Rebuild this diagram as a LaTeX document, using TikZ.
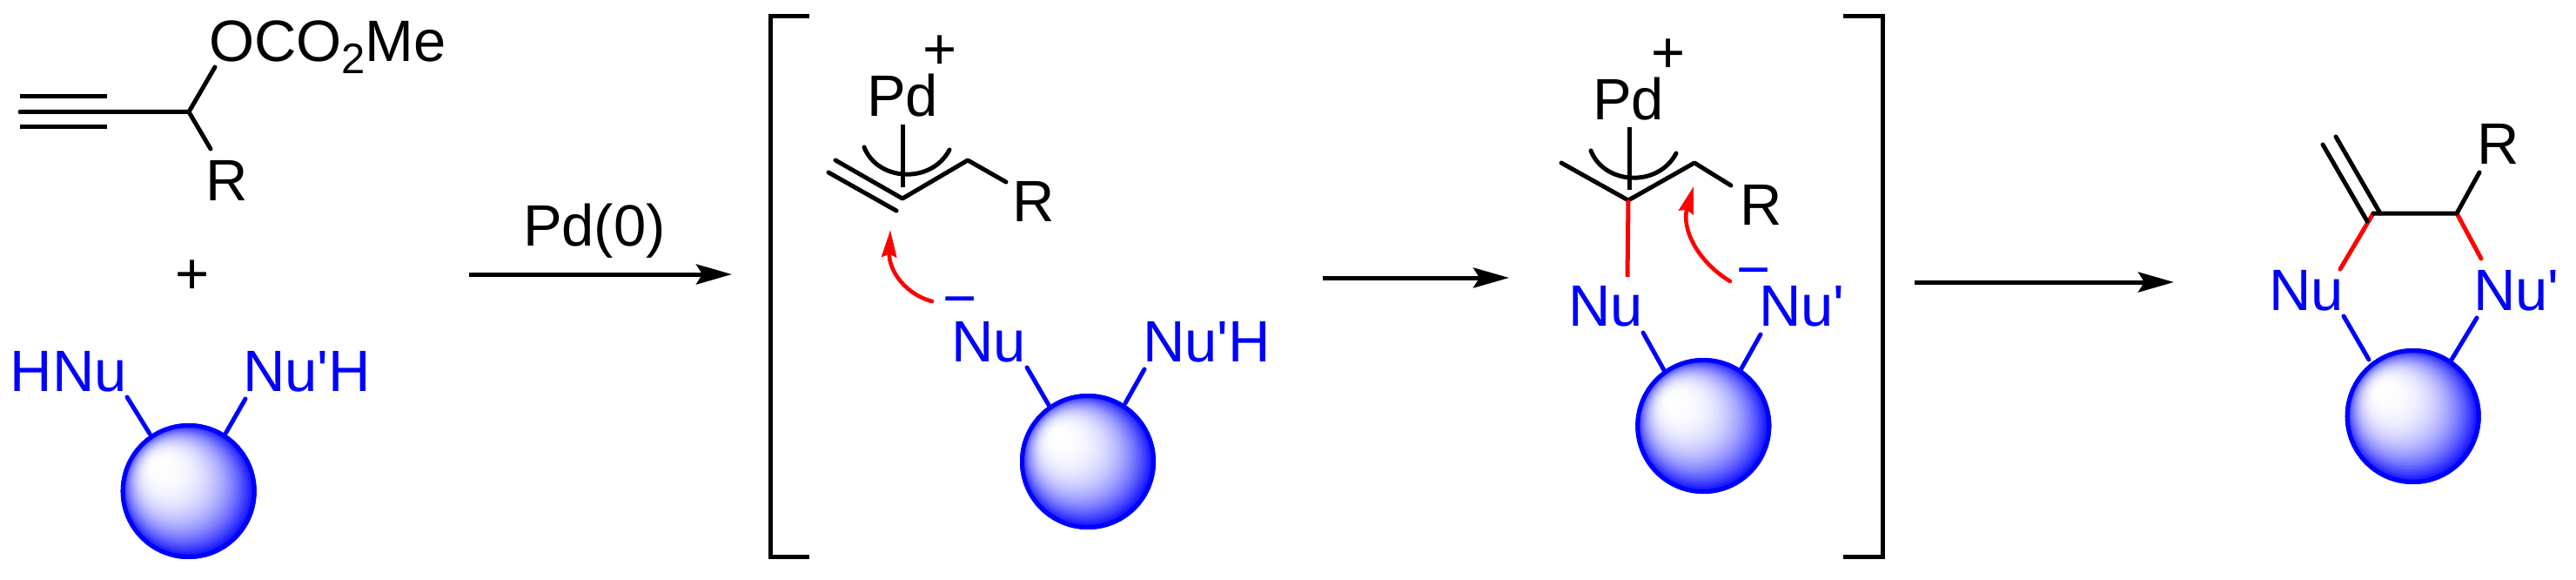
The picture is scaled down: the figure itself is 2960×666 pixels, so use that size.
\documentclass[tikz,border=0pt]{standalone}
\usepackage{fontspec}
\newfontfamily\labfont{Liberation Sans}
\usetikzlibrary{arrows.meta}
\definecolor{nublue}{RGB}{0,0,255}
\definecolor{arrowred}{RGB}{255,0,0}
\tikzset{
  lab/.style={anchor=base west,inner sep=0pt,outer sep=0pt,font=\labfont\fontsize{67}{80}\selectfont},
  bluelab/.style={lab,text=nublue},
  bond/.style={draw=black,line width=5pt,line cap=round,line join=round},
  bluebond/.style={bond,draw=nublue},
  redbond/.style={bond,draw=arrowred},
  rxn/.style={draw=black,line width=5pt,-{Stealth[length=41pt,width=23pt,inset=7pt]}},
  push/.style={draw=arrowred,line width=4.6pt,line cap=round,-{Stealth[length=31pt,width=17pt,inset=3pt]}},
  brack/.style={draw=black,line width=5pt,line cap=butt,line join=miter},
  beadrim/.style={draw=nublue,line width=5pt}
}
% banded sphere: circles shrink from the outline towards the highlight
\newcommand{\beadat}[3]{%
  \coordinate (#1) at (#2,#3);
  \foreach \i in {40,39,...,1}{%
    \pgfmathsetmacro\tt{\i/40}%
    \pgfmathsetmacro\pct{100*(\tt^2.7)}%
    \pgfmathsetmacro\rr{78*\tt}%
    \fill[nublue!\pct!white] ({#2-36.7*(1-\tt)},{#3-31*(1-\tt)}) circle[radius=\rr pt];
  }%
  \draw[beadrim] (#1) circle[radius=75.5pt];}
\begin{document}
\begin{tikzpicture}[x=1pt,y=-1pt]
\useasboundingbox (0,0) rectangle (2960,666);
\fill[white] (0,0) rectangle (2960,666);
% --- propargyl carbonate
\coordinate (a1) at (23,111); \coordinate (a2) at (123,111);
\coordinate (b1) at (23,128.5); \coordinate (b2) at (217,128.5);
\coordinate (c1) at (23,146); \coordinate (c2) at (123,146);
\coordinate (oend) at (247,77); \coordinate (rend) at (242,171);
\draw[bond,line cap=butt] (a1) -- (a2);
\draw[bond,line cap=butt] (c1) -- (c2);
\draw[bond] (b1) -- (b2) -- (oend);
\draw[bond] (b2) -- (rend);
\node[lab] (ococ) at (240,71) {OCO\raisebox{-14pt}{\fontsize{49}{49}\selectfont 2}Me};
\node[lab] (r1) at (236,230) {R};
\node[lab] (plus1) at (201.5,337) {+};
% --- bifunctional bead 1
\beadat{s1}{216.7}{564}
\coordinate (s1a) at (146,456); \coordinate (s1b) at (172,498);
\coordinate (s1c) at (282,458); \coordinate (s1d) at (259,498);
\draw[bluebond] (s1a) -- (s1b);
\draw[bluebond] (s1c) -- (s1d);
\node[bluelab] (hnu) at (12,449) {HNu};
\node[bluelab] (nuh1) at (279,449) {Nu'H};
% --- arrow 1
\coordinate (ar1a) at (539,315); \coordinate (ar1b) at (841,315);
\draw[rxn] (ar1a) -- (ar1b);
\node[lab] (pd0) at (601,282) {Pd(0)};
% --- brackets
\coordinate (bl1) at (930,19); \coordinate (bl2) at (885,19);
\coordinate (bl3) at (885,639); \coordinate (bl4) at (930,639);
\draw[brack] (bl1) -- (bl2) -- (bl3) -- (bl4);
\coordinate (br1) at (2118,19); \coordinate (br2) at (2163,19);
\coordinate (br3) at (2163,639); \coordinate (br4) at (2118,639);
\draw[brack] (br1) -- (br2) -- (br3) -- (br4);
% --- intermediate 1
\node[lab] (pd1) at (996,134) {Pd};
\node[lab] (plus2) at (1060,80) {+};
\coordinate (p1a) at (1037.3,143); \coordinate (p1b) at (1037.3,215);
\draw[bond,line cap=butt] (p1a) -- (p1b);
\coordinate (e1a) at (993,169); \coordinate (e1b) at (1091,172);
\draw[bond] (e1a) .. controls (1008,208) and (1070,212) .. (e1b);
\coordinate (d1a) at (960,184); \coordinate (d1b) at (1037,228);
\coordinate (d1c) at (952,198); \coordinate (d1d) at (1030,242);
\coordinate (d1e) at (1112,184); \coordinate (d1f) at (1156,209);
\draw[bond] (d1a) -- (d1b) -- (d1e) -- (d1f);
\draw[bond] (d1c) -- (d1d);
\node[lab] (r2) at (1163,254) {R};
\coordinate (m1a) at (1071,346); \coordinate (m1b) at (1023,264);
\draw[push] (m1a) .. controls (1040,338) and (1021,310) .. (m1b);
\node[bluelab] (minus1) at (1083,365) {−};
\node[bluelab] (nu2) at (1093,415) {Nu};
\node[bluelab] (nuh2) at (1313,415) {Nu'H};
\beadat{s2}{1250}{530}
\coordinate (s2a) at (1180,422); \coordinate (s2b) at (1205,465);
\coordinate (s2c) at (1315,424); \coordinate (s2d) at (1293,463);
\draw[bluebond] (s2a) -- (s2b);
\draw[bluebond] (s2c) -- (s2d);
% --- arrow 2
\coordinate (ar2a) at (1520,319); \coordinate (ar2b) at (1734,319);
\draw[rxn] (ar2a) -- (ar2b);
% --- intermediate 2
\node[lab] (pd2) at (1830,138) {Pd};
\node[lab] (plus3) at (1897,84) {+};
\coordinate (p2a) at (1872,146); \coordinate (p2b) at (1872,218);
\draw[bond,line cap=butt] (p2a) -- (p2b);
\coordinate (e2a) at (1828,173); \coordinate (e2b) at (1926,176);
\draw[bond] (e2a) .. controls (1843,212) and (1905,216) .. (e2b);
\coordinate (f2a) at (1794,187); \coordinate (f2b) at (1871,230);
\coordinate (f2c) at (1947,187); \coordinate (f2d) at (1989,213);
\draw[bond] (f2a) -- (f2b) -- (f2c) -- (f2d);
\coordinate (f2e) at (1870,318);
\draw[redbond,line cap=butt] (f2b) -- (f2e);
\node[lab] (r3) at (1999,258) {R};
\coordinate (m2a) at (1988,323); \coordinate (m2b) at (1946,214);
\draw[push] (m2a) .. controls (1950,300) and (1932,262) .. (m2b);
\node[bluelab] (minus2) at (1995,332) {−};
\node[bluelab] (nu3) at (1802,374) {Nu};
\node[bluelab] (nuh3) at (2021,374) {Nu'};
\beadat{s3}{1957.3}{489}
\coordinate (s3a) at (1888,382); \coordinate (s3b) at (1912,425);
\coordinate (s3c) at (2023,384); \coordinate (s3d) at (2000,425);
\draw[bluebond] (s3a) -- (s3b);
\draw[bluebond] (s3c) -- (s3d);
% --- arrow 3
\coordinate (ar3a) at (2200,324); \coordinate (ar3b) at (2498,324);
\draw[rxn] (ar3a) -- (ar3b);
% --- product
\coordinate (g1) at (2684,157); \coordinate (g2) at (2735,245);
\coordinate (g3) at (2669,166); \coordinate (g4) at (2720,254);
\coordinate (g5) at (2727,245); \coordinate (g6) at (2823,245);
\coordinate (g7) at (2849,198); \coordinate (g8) at (2851,297);
\coordinate (g9) at (2689,309);
\draw[redbond] (g5) -- (g9);
\draw[redbond] (g6) -- (g8);
\draw[bond] (g1) -- (g2);
\draw[bond] (g3) -- (g4);
\draw[bond] (g5) -- (g6) -- (g7);
\node[lab] (r4) at (2846,188) {R};
\node[bluelab] (nu4) at (2607,356) {Nu};
\node[bluelab] (nuh4) at (2842,356) {Nu'};
\beadat{s4}{2772.7}{478}
\coordinate (s4a) at (2693,363); \coordinate (s4b) at (2722,413);
\coordinate (s4c) at (2846,365); \coordinate (s4d) at (2817,413);
\draw[bluebond] (s4a) -- (s4b);
\draw[bluebond] (s4c) -- (s4d);
\end{tikzpicture}
\end{document}
